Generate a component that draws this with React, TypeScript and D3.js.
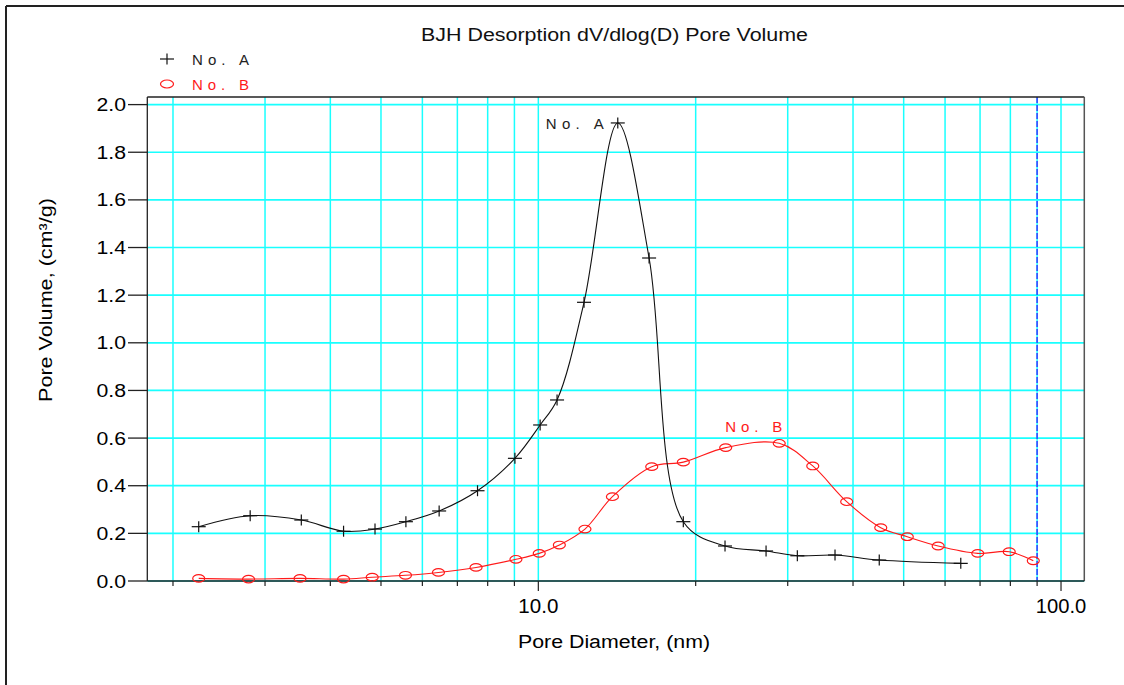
import React from "react";
import * as d3 from "d3";

const titleText = "BJH Desorption dV/dlog(D) Pore Volume";
const xAxisLabel = "Pore Diameter, (nm)";
const yAxisLabel = "Pore Volume, (cm³/g)";
const seriesNames = ["No. A", "No. B"];

const diamA = [2.24, 2.81, 3.52, 4.24, 4.87, 5.58, 6.46, 7.65, 9.02, 10.08, 10.86, 12.23, 14.19, 16.29, 18.94, 22.76, 27.27, 31.3, 36.95, 44.9, 64.3];
const volA = [0.228, 0.274, 0.256, 0.209, 0.218, 0.249, 0.294, 0.379, 0.515, 0.655, 0.76, 1.17, 1.923, 1.356, 0.249, 0.147, 0.126, 0.106, 0.109, 0.088, 0.074];

const diamB = [2.24, 2.79, 3.5, 4.24, 4.81, 5.57, 6.44, 7.6, 9.06, 10.04, 10.97, 12.28, 13.86, 16.48, 18.94, 22.83, 28.9, 33.5, 38.9, 45.2, 50.8, 58.2, 69.3, 79.6, 88.5];
const volB = [0.011, 0.008, 0.011, 0.008, 0.016, 0.024, 0.036, 0.057, 0.091, 0.116, 0.151, 0.218, 0.354, 0.48, 0.499, 0.56, 0.578, 0.483, 0.333, 0.224, 0.186, 0.147, 0.116, 0.123, 0.085];

const yTicks = [0, 0.2, 0.4, 0.6, 0.8, 1.0, 1.2, 1.4, 1.6, 1.8, 2.0];
const xMinorTicks = [2, 3, 4, 5, 6, 7, 8, 9, 20, 30, 40, 50, 60, 70, 80, 90];
const xMajorTicks = [10, 100];
const xMajorLabels = ["10.0", "100.0"];
const cutoffDiameter = 90;

const W = 1124;
const H = 685;
const plotLeft = 147.3;
const plotRight = 1084.3;
const plotTop = 97;
const plotBottom = 581;

const CYAN = "#19ffff";
const RED = "#ff1a1a";
const BLACK = "#111";

function labelWidth(s: string) {
  let w = 0;
  for (const c of s) w += c === "." ? 8.5 : 10.5;
  return w;
}

export default function App() {
  const x = d3.scaleLog().domain([1.786, 110.8]).range([plotLeft, plotRight]);
  const y = d3.scaleLinear().domain([0, 2]).range([plotBottom, 104.6]);

  const line = d3
    .line<[number, number]>()
    .x((d) => x(d[0]))
    .y((d) => y(d[1]))
    .curve(d3.curveCatmullRom.alpha(0.5));

  const ptsA: [number, number][] = diamA.map((d, i) => [d, volA[i]]);
  const ptsB: [number, number][] = diamB.map((d, i) => [d, volB[i]]);

  const peakA = ptsA.reduce((a, b) => (b[1] > a[1] ? b : a));
  const peakB = ptsB.reduce((a, b) => (b[1] > a[1] ? b : a));

  const font = "'Liberation Sans', Arial, sans-serif";

  const cross = (cx: number, cy: number, key: string | number) => (
    <g key={key} stroke={BLACK} strokeWidth={1.2}>
      <line x1={cx - 7} x2={cx + 7} y1={cy} y2={cy} />
      <line x1={cx} x2={cx} y1={cy - 5.5} y2={cy + 5.5} />
    </g>
  );
  const ring = (cx: number, cy: number, key: string | number) => (
    <ellipse key={key} cx={cx} cy={cy} rx={6} ry={3.8} fill="none" stroke={RED} strokeWidth={1.2} />
  );

  return (
    <svg
      width={W}
      height={H}
      style={{ position: "absolute", left: 0, top: 0, background: "#fff" }}
      fontFamily={font}
    >
      <rect x={0} y={0} width={W} height={H} fill="#fff" />
      {/* outer frame */}
      <line x1={6} x2={W} y1={6} y2={6} stroke="#222" strokeWidth={2} />
      <line x1={6} x2={6} y1={6} y2={H} stroke="#222" strokeWidth={2} />

      {/* title */}
      <text x={421} y={41} fontSize={17.5} textLength={387} lengthAdjust="spacingAndGlyphs" fill="#111">
        {titleText}
      </text>

      {/* legend */}
      {cross(167, 59, "lgA")}
      <text x={192} y={64.5} fontSize={15} textLength={57} lengthAdjust="spacing" fill="#222">
        {seriesNames[0]}
      </text>
      <ellipse cx={167} cy={84} rx={6.5} ry={4} fill="none" stroke={RED} strokeWidth={1.2} />
      <text x={192} y={89.5} fontSize={15} textLength={57} lengthAdjust="spacing" fill={RED}>
        {seriesNames[1]}
      </text>

      {/* grid */}
      {yTicks.map((t) => (
        <line key={"gy" + t} x1={plotLeft} x2={plotRight} y1={y(t)} y2={y(t)} stroke={CYAN} strokeWidth={1.7} />
      ))}
      {[...xMinorTicks, ...xMajorTicks].map((t) => (
        <line key={"gx" + t} x1={x(t)} x2={x(t)} y1={plotTop} y2={plotBottom} stroke={CYAN} strokeWidth={1.5} />
      ))}

      {/* cutoff dashed line */}
      <line
        x1={x(cutoffDiameter)}
        x2={x(cutoffDiameter)}
        y1={plotTop}
        y2={plotBottom}
        stroke="#3a3aff"
        strokeWidth={1.5}
        strokeDasharray="6,2"
      />

      {/* plot frame */}
      <line x1={plotLeft} x2={plotRight} y1={plotTop} y2={plotTop} stroke="#222" strokeWidth={1.5} />
      <line x1={plotRight} x2={plotRight} y1={plotTop} y2={plotBottom} stroke="#555" strokeWidth={1.5} />
      <line x1={plotLeft} x2={plotLeft} y1={plotTop} y2={plotBottom} stroke="#222" strokeWidth={1.3} />
      <line x1={plotLeft} x2={plotRight} y1={plotBottom} y2={plotBottom} stroke="#222" strokeWidth={1.3} />

      {/* y ticks */}
      {yTicks.map((t) => {
        const s = t.toFixed(1);
        const w = labelWidth(s);
        return (
          <g key={"ty" + t}>
            <line x1={128} x2={plotLeft} y1={y(t)} y2={y(t)} stroke="#222" strokeWidth={1.3} />
            <text x={126 - w} y={y(t) + 6.5} fontSize={18} textLength={w} lengthAdjust="spacingAndGlyphs" fill="#000">
              {s}
            </text>
          </g>
        );
      })}

      {/* x ticks */}
      {xMinorTicks.map((t) => (
        <line key={"tx" + t} x1={x(t)} x2={x(t)} y1={plotBottom} y2={plotBottom + 5} stroke="#222" strokeWidth={1.2} />
      ))}
      {xMajorTicks.map((t, i) => {
        const s = xMajorLabels[i];
        const w = labelWidth(s);
        return (
          <g key={"tM" + t}>
            <line x1={x(t)} x2={x(t)} y1={plotBottom} y2={plotBottom + 10} stroke="#222" strokeWidth={1.2} />
            <text x={x(t) - w / 2} y={613} fontSize={21} textLength={w} lengthAdjust="spacingAndGlyphs" fill="#000">
              {s}
            </text>
          </g>
        );
      })}

      {/* axis labels */}
      <text x={518} y={648} fontSize={18} textLength={192} lengthAdjust="spacingAndGlyphs" fill="#000">
        {xAxisLabel}
      </text>
      <text
        transform={`translate(52, ${402}) rotate(-90)`}
        x={0}
        y={0}
        fontSize={18}
        textLength={204}
        lengthAdjust="spacingAndGlyphs"
        fill="#000"
      >
        {yAxisLabel}
      </text>

      {/* series */}
      <path d={line(ptsB) || ""} fill="none" stroke={RED} strokeWidth={1.1} />
      <path d={line(ptsA) || ""} fill="none" stroke={BLACK} strokeWidth={1.1} />
      {ptsB.map((p, i) => ring(x(p[0]), y(p[1]), "b" + i))}
      {ptsA.map((p, i) => cross(x(p[0]), y(p[1]), "a" + i))}

      {/* series labels */}
      <text
        x={x(peakA[0]) - 14 - 58}
        y={y(peakA[1]) + 6}
        fontSize={15}
        textLength={58}
        lengthAdjust="spacing"
        fill="#222"
      >
        {seriesNames[0]}
      </text>
      <text
        x={x(peakB[0]) + 3 - 57}
        y={y(peakB[1]) - 11}
        fontSize={15}
        textLength={57}
        lengthAdjust="spacing"
        fill={RED}
      >
        {seriesNames[1]}
      </text>
    </svg>
  );
}
